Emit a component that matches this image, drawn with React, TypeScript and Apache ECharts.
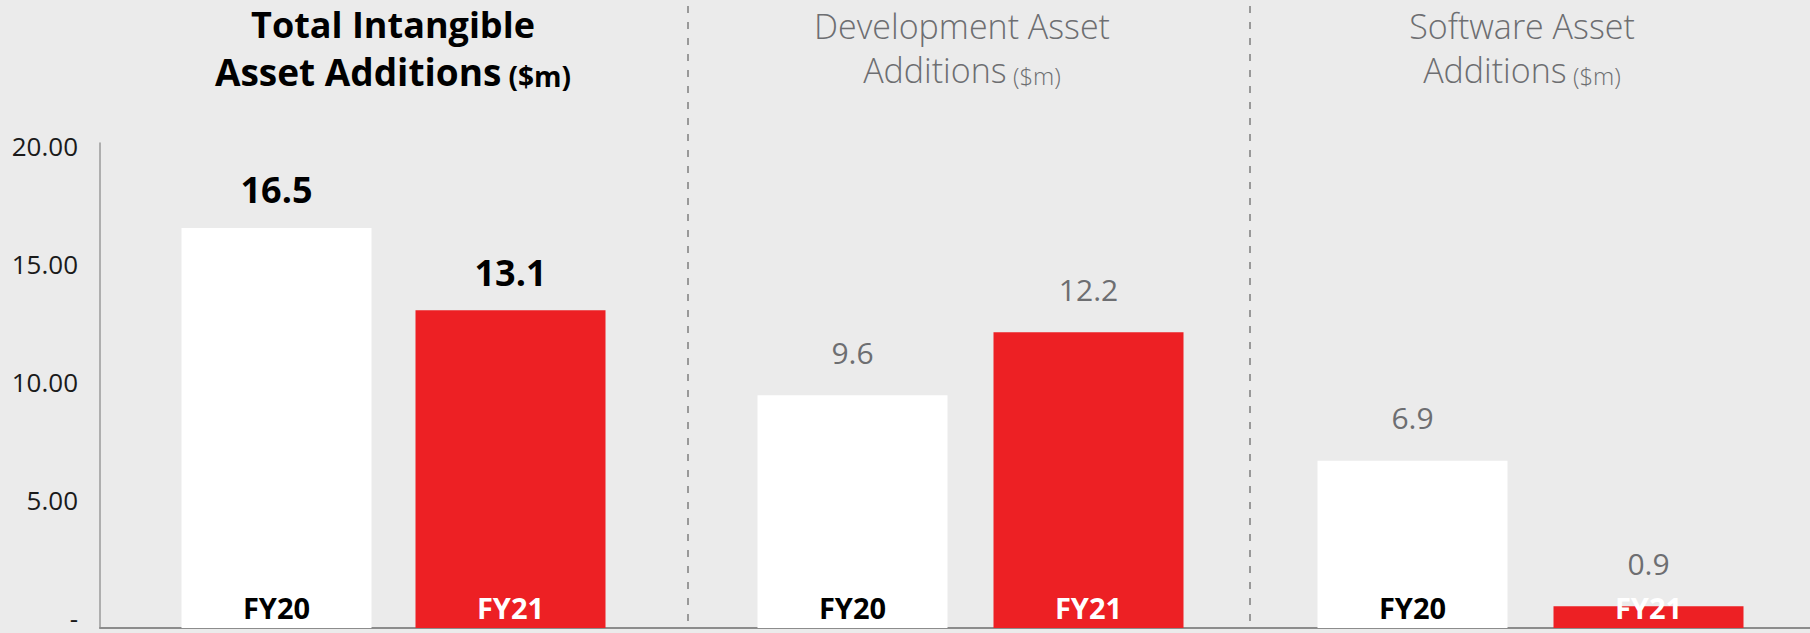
import React, { useEffect, useRef } from "react";
import * as echarts from "echarts";

const categories = ["FY20", "FY21"];
const totalValues = [16.5, 13.1];
const developmentValues = [9.6, 12.2];
const softwareValues = [6.9, 0.9];
const yMin = 0;
const yMax = 20;
const yInterval = 5;
const panelTitleLines = [
  ["Total Intangible", "Asset Additions", "($m)"],
  ["Development Asset", "Additions", "($m)"],
  ["Software Asset", "Additions", "($m)"],
];
const barColors = ["#ffffff", "#ed2024"];

const FONT = "'Open Sans', Roboto, sans-serif";
const W = 1810;
const H = 633;
const BASE_Y = 628;
const TOP_Y = 143;

export default function App() {
  const ref = useRef<HTMLDivElement>(null);

  useEffect(() => {
    if (!ref.current) return;
    const chart = echarts.init(ref.current, undefined, { renderer: "svg" });

    const panels = [
      { left: 159.5, width: 468, values: totalValues },
      { left: 734.5, width: 472, values: developmentValues },
      { left: 1294.5, width: 472, values: softwareValues },
    ];

    const grids: any[] = panels.map((p) => ({
      left: p.left,
      width: p.width,
      top: TOP_Y,
      bottom: H - BASE_Y,
      containLabel: false,
      outerBoundsMode: "none",
    }));
    // baseline grid (full width)
    grids.push({
      left: 100,
      right: 0,
      top: TOP_Y,
      bottom: H - BASE_Y,
      containLabel: false,
      outerBoundsMode: "none",
    });
    // tick-label grid
    grids.push({
      left: 100,
      width: 10,
      top: 146,
      bottom: 15,
      containLabel: false,
      outerBoundsMode: "none",
    });

    const xAxes: any[] = panels.map((_, i) => ({
      type: "category",
      gridIndex: i,
      data: categories,
      z: 10,
      axisLine: { show: false },
      axisTick: { show: false },
      axisLabel: {
        inside: true,
        margin: 6,
        formatter: (v: string, idx: number) => (idx === 0 ? `{d|${v}}` : `{w|${v}}`),
        rich: {
          d: { color: "#000000", fontSize: 29, fontWeight: "bold", fontFamily: FONT },
          w: { color: "#ffffff", fontSize: 29, fontWeight: "bold", fontFamily: FONT },
        },
      },
    }));
    xAxes.push({
      type: "value",
      gridIndex: 3,
      min: 0,
      max: 1,
      axisLine: { show: true, lineStyle: { color: "#8c8c8c", width: 2 } },
      axisTick: { show: false },
      axisLabel: { show: false },
      splitLine: { show: false },
    });
    xAxes.push({ type: "value", gridIndex: 4, show: false });

    const yAxes: any[] = panels.map((_, i) => ({
      type: "value",
      gridIndex: i,
      min: yMin,
      max: yMax,
      interval: yInterval,
      show: i === 0,
      offset: i === 0 ? 59.5 : 0,
      axisLine: { show: i === 0, lineStyle: { color: "#9a9a9a", width: 1.5 } },
      axisTick: { show: false },
      splitLine: { show: false },
      axisLabel: { show: false },
    }));
    yAxes.push({ type: "value", gridIndex: 3, show: false });
    yAxes.push({
      type: "value",
      gridIndex: 4,
      min: yMin,
      max: yMax,
      interval: yInterval,
      axisLine: { show: false },
      axisTick: { show: false },
      splitLine: { show: false },
      axisLabel: {
        show: true,
        margin: 22,
        fontSize: 26,
        color: "#1a1a1a",
        fontFamily: FONT,
        formatter: (v: number) => (v === 0 ? "-" : v.toFixed(2)),
      },
    });

    const series: any[] = panels.map((p, i) => ({
      type: "bar",
      xAxisIndex: i,
      yAxisIndex: i,
      data: p.values,
      barWidth: 190,
      itemStyle: { color: (params: any) => barColors[params.dataIndex] },
      label: {
        show: true,
        position: "top",
        distance: i === 0 ? 20 : 28,
        fontFamily: FONT,
        fontSize: i === 0 ? 36 : 30,
        fontWeight: i === 0 ? "bold" : "normal",
        color: i === 0 ? "#000000" : "#6d6e71",
        formatter: (params: any) => Number(params.value).toFixed(1),
      },
    }));

    const titleCenters = [393, 962, 1522];
    const titleGraphics = panelTitleLines.map((lines, i) => {
      const bold = i === 0;
      const lh = bold ? 48 : 44;
      const big = bold ? 36 : 34;
      const small = bold ? 28 : 24;
      const color = bold ? "#000000" : "#6d6e71";
      const weight = bold ? "bold" : 300;
      return {
        type: "text",
        x: titleCenters[i],
        y: bold ? -6 : -1,
        z: 20,
        style: {
          text: `{b|${lines[0]}}\n{c|${lines[1]}}{s| ${lines[2]}}`,
          align: "center",
          verticalAlign: "top",
          rich: {
            b: { fontSize: big, fontWeight: weight, fontFamily: FONT, fill: color, color, lineHeight: lh, verticalAlign: "bottom" },
            c: { fontSize: bold ? 37 : big, fontWeight: weight, fontFamily: FONT, fill: color, color, lineHeight: lh, verticalAlign: "bottom" },
            s: { fontSize: small, fontWeight: weight, fontFamily: FONT, fill: color, color, lineHeight: lh, verticalAlign: "bottom" },
          },
        },
      };
    });

    const dividers = [688, 1250].map((x) => ({
      type: "line",
      shape: { x1: x, y1: 6, x2: x, y2: BASE_Y },
      style: { stroke: "#7f7f7f", lineWidth: 1.5, lineDash: [7, 9] },
      z: 5,
    }));

    chart.setOption({
      animation: false,
      backgroundColor: "#ebebeb",
      grid: grids,
      xAxis: xAxes,
      yAxis: yAxes,
      series,
      graphic: [...dividers, ...titleGraphics],
    });

    return () => chart.dispose();
  }, []);

  return (
    <div
      ref={ref}
      style={{ position: "fixed", left: 0, top: 0, width: W, height: H }}
    />
  );
}
